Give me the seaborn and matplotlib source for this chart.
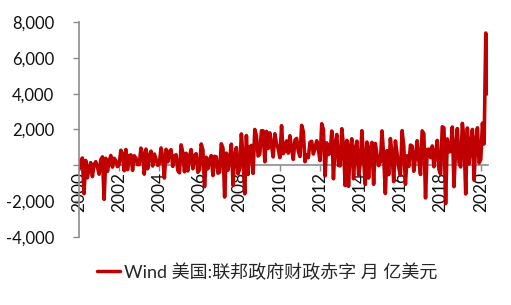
import numpy as np
import pandas as pd
import matplotlib
matplotlib.use("Agg")
import matplotlib.pyplot as plt
from matplotlib.ticker import FuncFormatter
import seaborn as sns

# Monthly values, 亿美元 (Jan 2000 - May 2020)
y2000 = [-230, 250, 410, -1580, 270, -700, -170, 150, -630, 30, 200, -90]
y2001 = [-500, 310, 470, -1900, 390, -340, 200, 550, -100, 390, 250, -70]
y2002 = [50, 840, 620, -300, 880, -240, 540, 580, -280, 530, 410, 40]
y2003 = [40, 960, 640, -490, 900, -190, 530, 790, -40, 630, 350, 0]
y2004 = [90, 970, 470, -710, 890, 190, 770, 870, -60, 520, 590, -280]
y2005 = [-420, 1140, 710, -360, 670, -310, 520, 880, -190, 540, 650, -390]
y2006 = [-210, 1190, 860, -1190, 450, -190, 340, 540, -570, 500, 470, -440]
y2007 = [-380, 1200, 960, -1770, 680, -270, 360, 1180, -1120, 560, 990, -480]
y2008 = [-170, 1750, 480, -1590, 1660, -510, 1020, 1110, -450, 2000, 1650, 520]
y2009 = [630, 1930, 1920, 200, 1890, 940, 1810, 1110, 470, 1760, 1200, 920]
y2010 = [430, 2210, 650, 820, 1360, 680, 1650, 910, 330, 1400, 1500, 800]
y2011 = [490, 2230, 1880, 200, 580, 430, 1290, 1340, 630, 980, 1370, 860]
y2012 = [270, 2320, 1980, -590, 1250, 600, 700, 1910, -750, 1200, 1720, -10]
y2013 = [-30, 2040, 1070, -1130, 1390, -1170, 980, 1480, -750, 910, 1350, -530]
y2014 = [100, 1930, 370, -1070, 1300, -710, 950, 1280, -1060, 1220, 570, -20]
y2015 = [180, 1920, 530, -1570, 820, -520, 1490, 640, -910, 1360, 650, -140]
y2016 = [-550, 1930, 1080, -1060, 530, -60, 1130, 1070, -330, 450, 1370, 270]
y2017 = [-510, 1920, 1760, -1820, 880, 900, 430, 1080, -80, 630, 1390, -230]
y2018 = [-490, 2150, 2090, -2140, 1470, 750, 770, 2140, -1190, 1000, 2050, 140]
y2019 = [-90, 2340, 1470, -1600, 2080, 80, 1200, 2000, -830, 1340, 2090, 130]
y2020 = [330, 2350, 1190, 7380, 3990]

years = list(range(2000, 2021))
yearly = [y2000, y2001, y2002, y2003, y2004, y2005, y2006, y2007, y2008, y2009,
          y2010, y2011, y2012, y2013, y2014, y2015, y2016, y2017, y2018, y2019, y2020]

x_ticks = list(range(2000, 2021, 2))
y_ticks = [-4000, -2000, 0, 2000, 4000, 6000, 8000]
series_name = "Wind 美国:联邦政府财政赤字 月 亿美元"

xs, vs = [], []
for yr, vals in zip(years, yearly):
    for m, v in enumerate(vals):
        xs.append(yr + m / 12.0)
        vs.append(v)
df = pd.DataFrame({"t": xs, "v": vs, "s": series_name})

sns.set_style("white")
plt.rcParams["font.family"] = ["Lato", "Noto Sans CJK SC", "DejaVu Sans"]

fig = plt.figure(figsize=(5.11, 3.05), dpi=100)
ax = fig.add_axes([0.1546, 0.223, 0.800, 0.705])

sns.lineplot(data=df, x="t", y="v", hue="s", palette=["#C00000"], linewidth=2.6,
             ax=ax, legend=False)

ax.set_xlim(2000, 2020.35)
ax.set_ylim(-4000, 8000)
ax.set_yticks(y_ticks)
ax.yaxis.set_major_formatter(FuncFormatter(lambda v, p: "" if v == 0 else f"{int(v):,}"))
ax.set_xticks(x_ticks)
ax.set_xticklabels([str(t) for t in x_ticks])

for s in ["top", "right"]:
    ax.spines[s].set_visible(False)
ax.spines["bottom"].set_position(("data", 0))
ax.spines["bottom"].set_color("#8c8c8c")
ax.spines["left"].set_color("#8c8c8c")
ax.spines["bottom"].set_linewidth(1.2)
ax.spines["left"].set_linewidth(1.2)
ax.spines["bottom"].set_zorder(0)

ax.tick_params(axis="y", direction="out", length=4, width=1, color="#8c8c8c",
               labelsize=12, labelcolor="#111111", pad=14, left=True)
ax.tick_params(axis="x", direction="out", length=4, width=1, color="#8c8c8c",
               labelsize=12.5, labelcolor="#111111", pad=1, bottom=True,
               labelrotation=90)
ax.set_xlabel("")
ax.set_ylabel("")

handle = plt.Line2D([], [], color="#C00000", linewidth=2.5)
fig.legend([handle], [series_name], loc="center", bbox_to_anchor=(0.523, 0.108),
           frameon=False, handlelength=1.3, handletextpad=0.2,
           prop={"family": ["Lato", "Noto Sans CJK SC"], "size": 13})

fig.savefig("out.png", dpi=100)
